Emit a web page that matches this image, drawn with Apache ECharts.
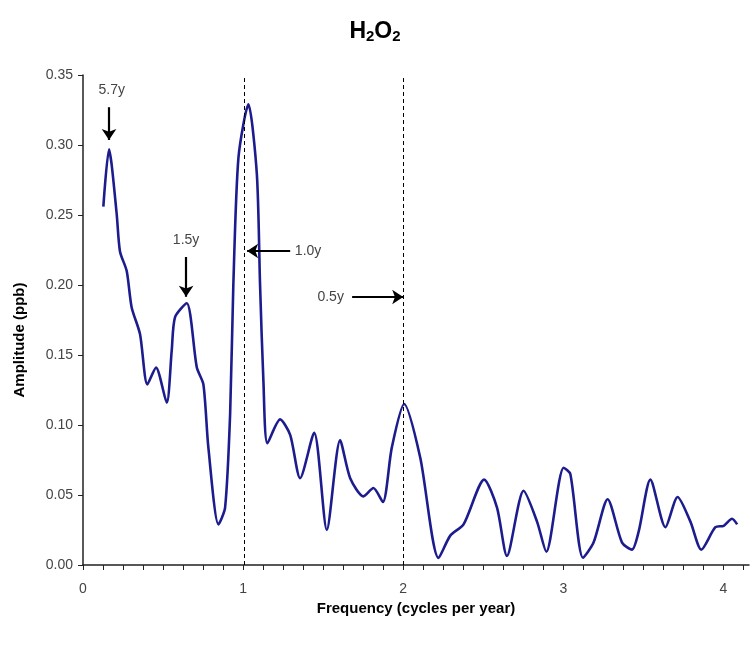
<!DOCTYPE html>
<html>
<head>
<meta charset="utf-8">
<script src="https://cdn.jsdelivr.net/npm/echarts@6/dist/echarts.min.js"></script>
<style>html,body{margin:0;padding:0;background:#fff}#c{width:750px;height:645px}</style>
</head>
<body>
<div id="c"></div>
<script>
// Frequency (cycles per year)
var freq = [0.127,0.1625,0.179,0.211,0.231,0.273,0.304,0.356,0.402,0.456,0.523,0.554,0.575,0.648,0.711,0.752,0.783,0.846,0.8875,0.919,0.939,0.971,1.033,1.086,1.106,1.127,1.152,1.231,1.294,1.356,1.444,1.523,1.606,1.669,1.752,1.814,1.873,1.929,2.006,2.106,2.221,2.294,2.377,2.506,2.586,2.648,2.752,2.836,2.894,3.002,3.044,3.123,3.189,3.277,3.367,3.429,3.471,3.544,3.638,3.714,3.794,3.8625,3.95,4.002,4.054,4.086];
// Amplitude (ppb)
var amp = [0.256,0.297,0.286,0.250,0.224,0.210,0.184,0.165,0.129,0.141,0.116,0.153,0.177,0.187,0.141,0.129,0.084,0.029,0.041,0.108,0.200,0.291,0.329,0.279,0.200,0.131,0.087,0.104,0.093,0.062,0.0945,0.025,0.089,0.062,0.049,0.055,0.045,0.084,0.115,0.077,0.005,0.021,0.029,0.061,0.041,0.0065,0.053,0.031,0.0095,0.0695,0.065,0.0052,0.016,0.047,0.016,0.011,0.024,0.061,0.027,0.0486,0.031,0.011,0.027,0.028,0.033,0.029];
var xTickLabels = [0,1,2,3,4];
var yTickLabels = [0.00,0.05,0.10,0.15,0.20,0.25,0.30,0.35];
var refLines = [1.015, 2.005];
// annotation arrows
var arrowLabels = ['5.7y','1.5y','1.0y','0.5y'];
var arrowFrom = [[0.1625,0.327],[0.644,0.220],[1.294,0.2243],[1.681,0.1914]];
var arrowTo = [[0.1625,0.3036],[0.644,0.1916],[1.025,0.2243],[2.0,0.1914]];
var labelPos = [[0.18,0.339],[0.644,0.232],[1.406,0.2243],[1.547,0.1914]];

var minorTicks = [];
for (var i = 0; i <= 33; i++) minorTicks.push(i * 0.125);

var narrow = "'Liberation Sans Narrow', 'Liberation Sans', Arial, sans-serif";
var chart = echarts.init(document.getElementById('c'));
chart.setOption({
  animation: false,
  title: {
    text: 'H{s|2}O{s|2}',
    left: 'center', top: 14,
    textStyle: {
      fontFamily: 'Liberation Sans, Arial', fontWeight: 'bold', fontSize: 23, color: '#000',
      rich: { s: { fontFamily: 'Liberation Sans, Arial', fontWeight: 'bold', fontSize: 15, color: '#000', verticalAlign: 'bottom', padding: [10,0,0,0] } }
    }
  },
  grid: { left: 83, right: 1, top: 75, bottom: 80 },
  xAxis: {
    type: 'value', min: 0, max: 4.16,
    axisLine: { lineStyle: { color: '#222', width: 1.5 } },
    axisTick: { customValues: minorTicks, length: 5, lineStyle: { color: '#222' } },
    axisLabel: { customValues: xTickLabels, margin: 17, fontFamily: narrow, fontSize: 14, color: '#444' },
    splitLine: { show: false },
    name: 'Frequency (cycles per year)', nameLocation: 'middle', nameGap: 34,
    nameTextStyle: { fontFamily: 'Liberation Sans, Arial', fontWeight: 'bold', fontSize: 15, color: '#000' }
  },
  yAxis: {
    type: 'value', min: 0, max: 0.35, interval: 0.05,
    axisLine: { show: true, lineStyle: { color: '#222', width: 1.5 } },
    axisTick: { show: true, length: 5, lineStyle: { color: '#222' } },
    axisLabel: { customValues: yTickLabels, margin: 10, fontFamily: narrow, fontSize: 14, color: '#444',
      formatter: function (v) { return v.toFixed(2); } },
    splitLine: { show: false }
  },
  graphic: [{
    type: 'text', x: 20, y: 340, rotation: Math.PI / 2,
    style: { text: 'Amplitude (ppb)', fontFamily: 'Liberation Sans, Arial', fontWeight: 'bold', fontSize: 15, fill: '#000', align: 'center', verticalAlign: 'middle' }
  }],
  series: [
    {
      type: 'line', data: freq.map(function (f, i) { return [f, amp[i]]; }),
      showSymbol: false, smooth: 0.25, silent: true,
      lineStyle: { color: '#1c1c8e', width: 2.6 },
      z: 3
    },
    {
      type: 'line', data: [], silent: true,
      markLine: {
        silent: true, symbol: ['none','none'],
        label: { show: false },
        lineStyle: { color: '#000', type: [4,3], width: 1 },
        data: refLines.map(function (x) { return { xAxis: x }; })
      }
    },
    {
      type: 'line', data: [], silent: true,
      markLine: {
        silent: true, symbol: ['none','arrow'], symbolSize: 11,
        label: { show: false },
        itemStyle: { color: '#000' },
        lineStyle: { color: '#000', type: 'solid', width: 2.2 },
        data: arrowFrom.map(function (p, i) { return [{ coord: p }, { coord: arrowTo[i] }]; })
      },
      markPoint: {
        silent: true, symbol: 'circle', symbolSize: 0,
        label: { show: true, position: 'inside', fontFamily: narrow, fontSize: 14, color: '#444',
          formatter: function (p) { return p.name; } },
        data: labelPos.map(function (p, i) { return { name: arrowLabels[i], coord: p }; })
      }
    }
  ]
});
</script>
</body>
</html>
